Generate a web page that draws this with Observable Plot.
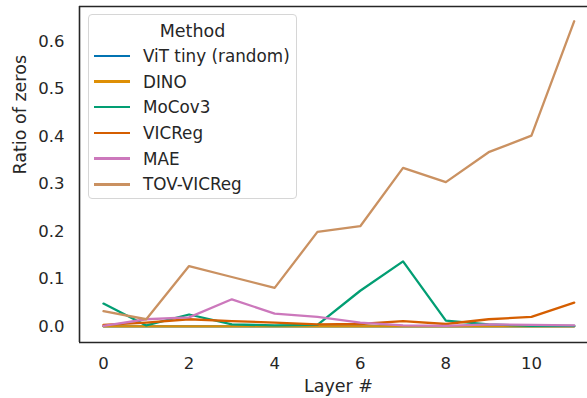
<!DOCTYPE html>
<html>
<head>
<meta charset="utf-8">
<script src="https://cdn.jsdelivr.net/npm/d3@7"></script>
<script src="https://cdn.jsdelivr.net/npm/@observablehq/plot@0.6"></script>
<style>
  html, body { margin: 0; padding: 0; background: #fff; overflow: hidden; }
  #wrap { position: relative; width: 587px; height: 398px; font-family: "DejaVu Sans", sans-serif; color: #262626; }
  #legend { position: absolute; left: 88px; top: 14px; width: 209px; height: 185px; box-sizing: border-box;
    border: 1px solid #d6d6d6; border-radius: 4px; background: rgba(255,255,255,0.85); font-size: 16.8px; }
  #legend .title { text-align: center; margin-top: 4px; height: 24px; line-height: 24px; font-size: 17.5px; }
  #legend .row { display: flex; align-items: center; height: 25.7px; }
  #legend .sw { width: 36px; height: 2.5px; margin-left: 5px; margin-right: 13px; }
</style>
</head>
<body>
<div id="wrap"><div id="chart"></div><div id="legend"></div></div>
<script>
const layers = [0,1,2,3,4,5,6,7,8,9,10,11];
const methods = ["ViT tiny (random)", "DINO", "MoCov3", "VICReg", "MAE", "TOV-VICReg"];
const colors = ["#0173b2", "#de8f05", "#029e73", "#d55e00", "#cc78bc", "#ca9161"];
const vitTiny = [0.000,0.000,0.000,0.000,0.000,0.000,0.000,0.000,0.000,0.000,0.000,0.000];
const dino    = [0.000,0.000,0.000,0.000,0.000,0.000,0.000,0.000,0.000,0.000,0.000,0.000];
const mocov3  = [0.048,0.002,0.025,0.004,0.002,0.003,0.075,0.137,0.012,0.004,0.001,0.001];
const vicreg  = [0.003,0.008,0.015,0.011,0.008,0.004,0.005,0.011,0.005,0.015,0.020,0.050];
const mae     = [0.001,0.015,0.019,0.057,0.027,0.020,0.008,0.002,0.001,0.004,0.003,0.002];
const tov     = [0.032,0.015,0.127,0.104,0.081,0.199,0.211,0.334,0.304,0.367,0.402,0.643];
const series = [vitTiny, dino, mocov3, vicreg, mae, tov];
const xTicks = [0,2,4,6,8,10];
const yTicks = [0.0,0.1,0.2,0.3,0.4,0.5,0.6];
const xDomain = [-0.56, 11.31];
const yDomain = [-0.034, 0.674];

const data = [];
methods.forEach((m, i) => layers.forEach((l, j) => data.push({method: m, layer: l, value: series[i][j]})));

const ink = "#262626";
const chart = Plot.plot({
  width: 587, height: 398,
  marginLeft: 79, marginRight: 0, marginTop: 6, marginBottom: 56,
  style: {fontFamily: "DejaVu Sans, sans-serif", fontSize: "16px", color: ink, background: "#fff"},
  x: {domain: xDomain, ticks: xTicks, tickFormat: d3.format("d"), label: null},
  y: {domain: yDomain, ticks: yTicks, tickFormat: d3.format(".1f"), label: null},
  color: {domain: methods, range: colors},
  marks: [
    Plot.axisX(xTicks, {tickSize: 0, tickPadding: 15, fontSize: 16.5, fill: ink}),
    Plot.axisY(yTicks, {tickSize: 0, tickPadding: 15, fontSize: 16.5, fill: ink, tickFormat: d3.format(".1f")}),
    Plot.line(data, {x: "layer", y: "value", z: "method", stroke: "method", strokeWidth: 2.3}),
    Plot.ruleX([xDomain[0]], {stroke: ink, strokeWidth: 1.6}),
    Plot.ruleY(yDomain, {stroke: ink, strokeWidth: 1.6}),
    Plot.text(["Layer #"], {frameAnchor: "bottom", dy: 49, dx: 5, fontSize: 17.5, fill: ink}),
    Plot.text(["Ratio of zeros"], {frameAnchor: "left", dx: -59, rotate: -90, fontSize: 17.5, fill: ink})
  ]
});
document.getElementById("chart").appendChild(chart);

const legend = document.getElementById("legend");
legend.innerHTML = '<div class="title">Method</div>' + methods.map((m, i) =>
  `<div class="row"><div class="sw" style="background:${colors[i]}"></div><span>${m}</span></div>`).join("");
</script>
</body>
</html>
